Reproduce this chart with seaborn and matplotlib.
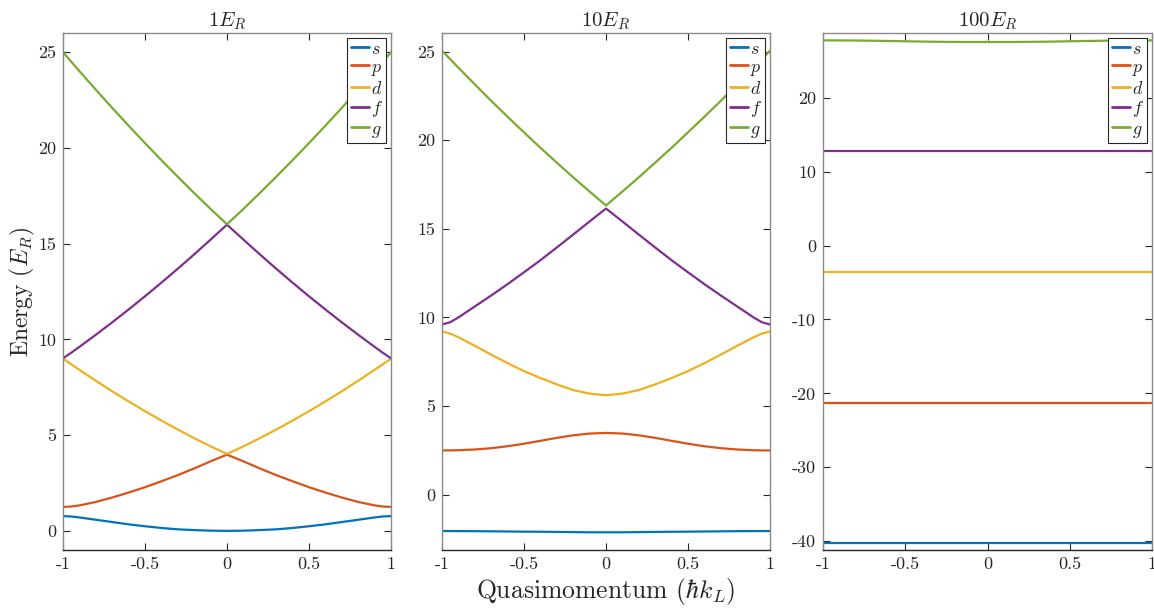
import matplotlib
matplotlib.use("Agg")
import matplotlib.pyplot as plt
import numpy as np
import pandas as pd
import seaborn as sns
from matplotlib.ticker import FuncFormatter

# ---------------- data ----------------
q = [-1, -0.95, -0.9, -0.8, -0.7, -0.6, -0.5, -0.4, -0.3, -0.2, -0.1, 0,
     0.1, 0.2, 0.3, 0.4, 0.5, 0.6, 0.7, 0.8, 0.9, 0.95, 1]

bands = ["$s$", "$p$", "$d$", "$f$", "$g$"]
band_colors = ["#0072BD", "#D95319", "#EDB120", "#7E2F8E", "#77AC30"]
titles = ["$1E_R$", "$10E_R$", "$100E_R$"]

# lattice depth 1 E_R
v1_s = [0.77, 0.75, 0.70, 0.58, 0.46, 0.34, 0.24, 0.15, 0.08, 0.04, 0.01, 0.0,
        0.01, 0.04, 0.08, 0.15, 0.24, 0.34, 0.46, 0.58, 0.70, 0.75, 0.77]
v1_p = [1.25, 1.27, 1.33, 1.51, 1.74, 2.00, 2.28, 2.59, 2.91, 3.26, 3.63, 3.98,
        3.63, 3.26, 2.91, 2.59, 2.28, 2.00, 1.74, 1.51, 1.33, 1.27, 1.25]
v1_d = [8.99, 8.70, 8.41, 7.84, 7.29, 6.76, 6.25, 5.76, 5.29, 4.84, 4.41, 4.02,
        4.41, 4.84, 5.29, 5.76, 6.25, 6.76, 7.29, 7.84, 8.41, 8.70, 8.99]
v1_f = [9.01, 9.30, 9.61, 10.24, 10.89, 11.56, 12.25, 12.96, 13.69, 14.44, 15.21, 15.99,
        15.21, 14.44, 13.69, 12.96, 12.25, 11.56, 10.89, 10.24, 9.61, 9.30, 9.01]
v1_g = [25.0, 24.50, 24.01, 23.04, 22.09, 21.16, 20.25, 19.36, 18.49, 17.64, 16.81, 16.01,
        16.81, 17.64, 18.49, 19.36, 20.25, 21.16, 22.09, 23.04, 24.01, 24.50, 25.0]

# lattice depth 10 E_R
v10_s = [-2.06, -2.061, -2.062, -2.067, -2.075, -2.085, -2.095, -2.10, -2.11, -2.12, -2.13, -2.13,
         -2.13, -2.12, -2.11, -2.10, -2.095, -2.085, -2.075, -2.067, -2.062, -2.061, -2.06]
v10_p = [2.49, 2.494, 2.503, 2.545, 2.619, 2.728, 2.87, 3.034, 3.201, 3.346, 3.445, 3.48,
         3.445, 3.346, 3.201, 3.034, 2.87, 2.728, 2.619, 2.545, 2.503, 2.494, 2.49]
v10_d = [9.21, 9.09, 8.88, 8.40, 7.90, 7.42, 6.97, 6.58, 6.22, 5.90, 5.70, 5.61,
         5.70, 5.90, 6.22, 6.58, 6.97, 7.42, 7.90, 8.40, 8.88, 9.09, 9.21]
v10_f = [9.60, 9.73, 10.0, 10.62, 11.24, 11.88, 12.55, 13.23, 13.95, 14.68, 15.42, 16.15,
         15.42, 14.68, 13.95, 13.23, 12.55, 11.88, 11.24, 10.62, 10.0, 9.73, 9.60]
v10_g = [25.06, 24.58, 24.10, 23.16, 22.23, 21.33, 20.45, 19.58, 18.74, 17.91, 17.11, 16.32,
         17.11, 17.91, 18.74, 19.58, 20.45, 21.33, 22.23, 23.16, 24.10, 24.58, 25.06]

# lattice depth 100 E_R
v100_s = [-40.2] * 23
v100_p = [-21.31] * 23
v100_d = [-3.61] * 23
v100_f = [12.79] * 23
v100_g = [27.78, 27.78, 27.78, 27.76, 27.73, 27.70, 27.66, 27.62, 27.59, 27.57, 27.56, 27.56,
          27.56, 27.57, 27.59, 27.62, 27.66, 27.70, 27.73, 27.76, 27.78, 27.78, 27.78]

panels = [
    [v1_s, v1_p, v1_d, v1_f, v1_g],
    [v10_s, v10_p, v10_d, v10_f, v10_g],
    [v100_s, v100_p, v100_d, v100_f, v100_g],
]

xticks = [-1, -0.5, 0, 0.5, 1]
xtick_labels = ["-1", "-0.5", "0", "0.5", "1"]
yticks = [[0, 5, 10, 15, 20, 25], [0, 5, 10, 15, 20, 25], [-40, -30, -20, -10, 0, 10, 20]]

xlabel = r"Quasimomentum ($\hbar k_L$)"
ylabel = r"Energy ($E_R$)"

# ---------------- style ----------------
sns.set_style("ticks")
plt.rcParams.update({
    "font.family": "serif",
    "font.serif": ["cmr10", "DejaVu Serif"],
    "mathtext.fontset": "cm",
    "axes.unicode_minus": False,
    "axes.formatter.use_mathtext": True,
})

W, H = 1154, 610
fig = plt.figure(figsize=(W / 100, H / 100), dpi=100)

lefts = [63, 442, 823]
widths = [328, 328, 329]
top_px, bot_px = 33, 550

for i in range(3):
    ax = fig.add_axes([lefts[i] / W, 1 - bot_px / H, widths[i] / W, (bot_px - top_px) / H])
    rows = []
    for b, vals in zip(bands, panels[i]):
        for x, y in zip(q, vals):
            rows.append({"q": x, "E": y, "band": b})
    df = pd.DataFrame(rows)
    sns.lineplot(data=df, x="q", y="E", hue="band", hue_order=bands,
                 palette=band_colors, estimator=None, sort=True,
                 linewidth=1.6, ax=ax)
    allv = np.concatenate([np.asarray(v, float) for v in panels[i]])
    ax.set_xlim(-1, 1)
    ax.set_ylim(allv.min() - 1, allv.max() + 1)
    ax.set_xticks(xticks)
    ax.set_xticklabels(xtick_labels)
    ax.set_yticks(yticks[i])
    ax.yaxis.set_major_formatter(FuncFormatter(lambda v, p: "%g" % v))
    ax.tick_params(direction="in", top=True, right=True, length=5, width=0.8,
                   labelsize=13, color="#262626", labelcolor="#262626", pad=5)
    for sp in ["left", "right", "top"]:
        ax.spines[sp].set_color("#8a8a8a")
        ax.spines[sp].set_linewidth(1.0)
    ax.spines["bottom"].set_color("#262626")
    ax.spines["bottom"].set_linewidth(1.0)
    ax.set_title(titles[i], fontsize=15, pad=5, color="#262626")
    ax.set_xlabel("")
    ax.set_ylabel("")
    handles, labels = ax.get_legend_handles_labels()
    leg = ax.legend(handles, labels, loc="upper right", fontsize=13,
                    frameon=True, fancybox=False, framealpha=1,
                    edgecolor="#262626", handlelength=1.0, handletextpad=0.12,
                    labelspacing=0.12, borderpad=0.2, borderaxespad=0.25)
    leg.get_frame().set_linewidth(0.8)
    for line in leg.get_lines():
        line.set_linewidth(2.0)
    if i == 0:
        ax.set_ylabel(ylabel, fontsize=17, labelpad=1, color="#262626")
    if i == 1:
        ax.set_xlabel(xlabel, fontsize=18.5, labelpad=3, color="#262626")

fig.savefig("out.png", dpi=100)
